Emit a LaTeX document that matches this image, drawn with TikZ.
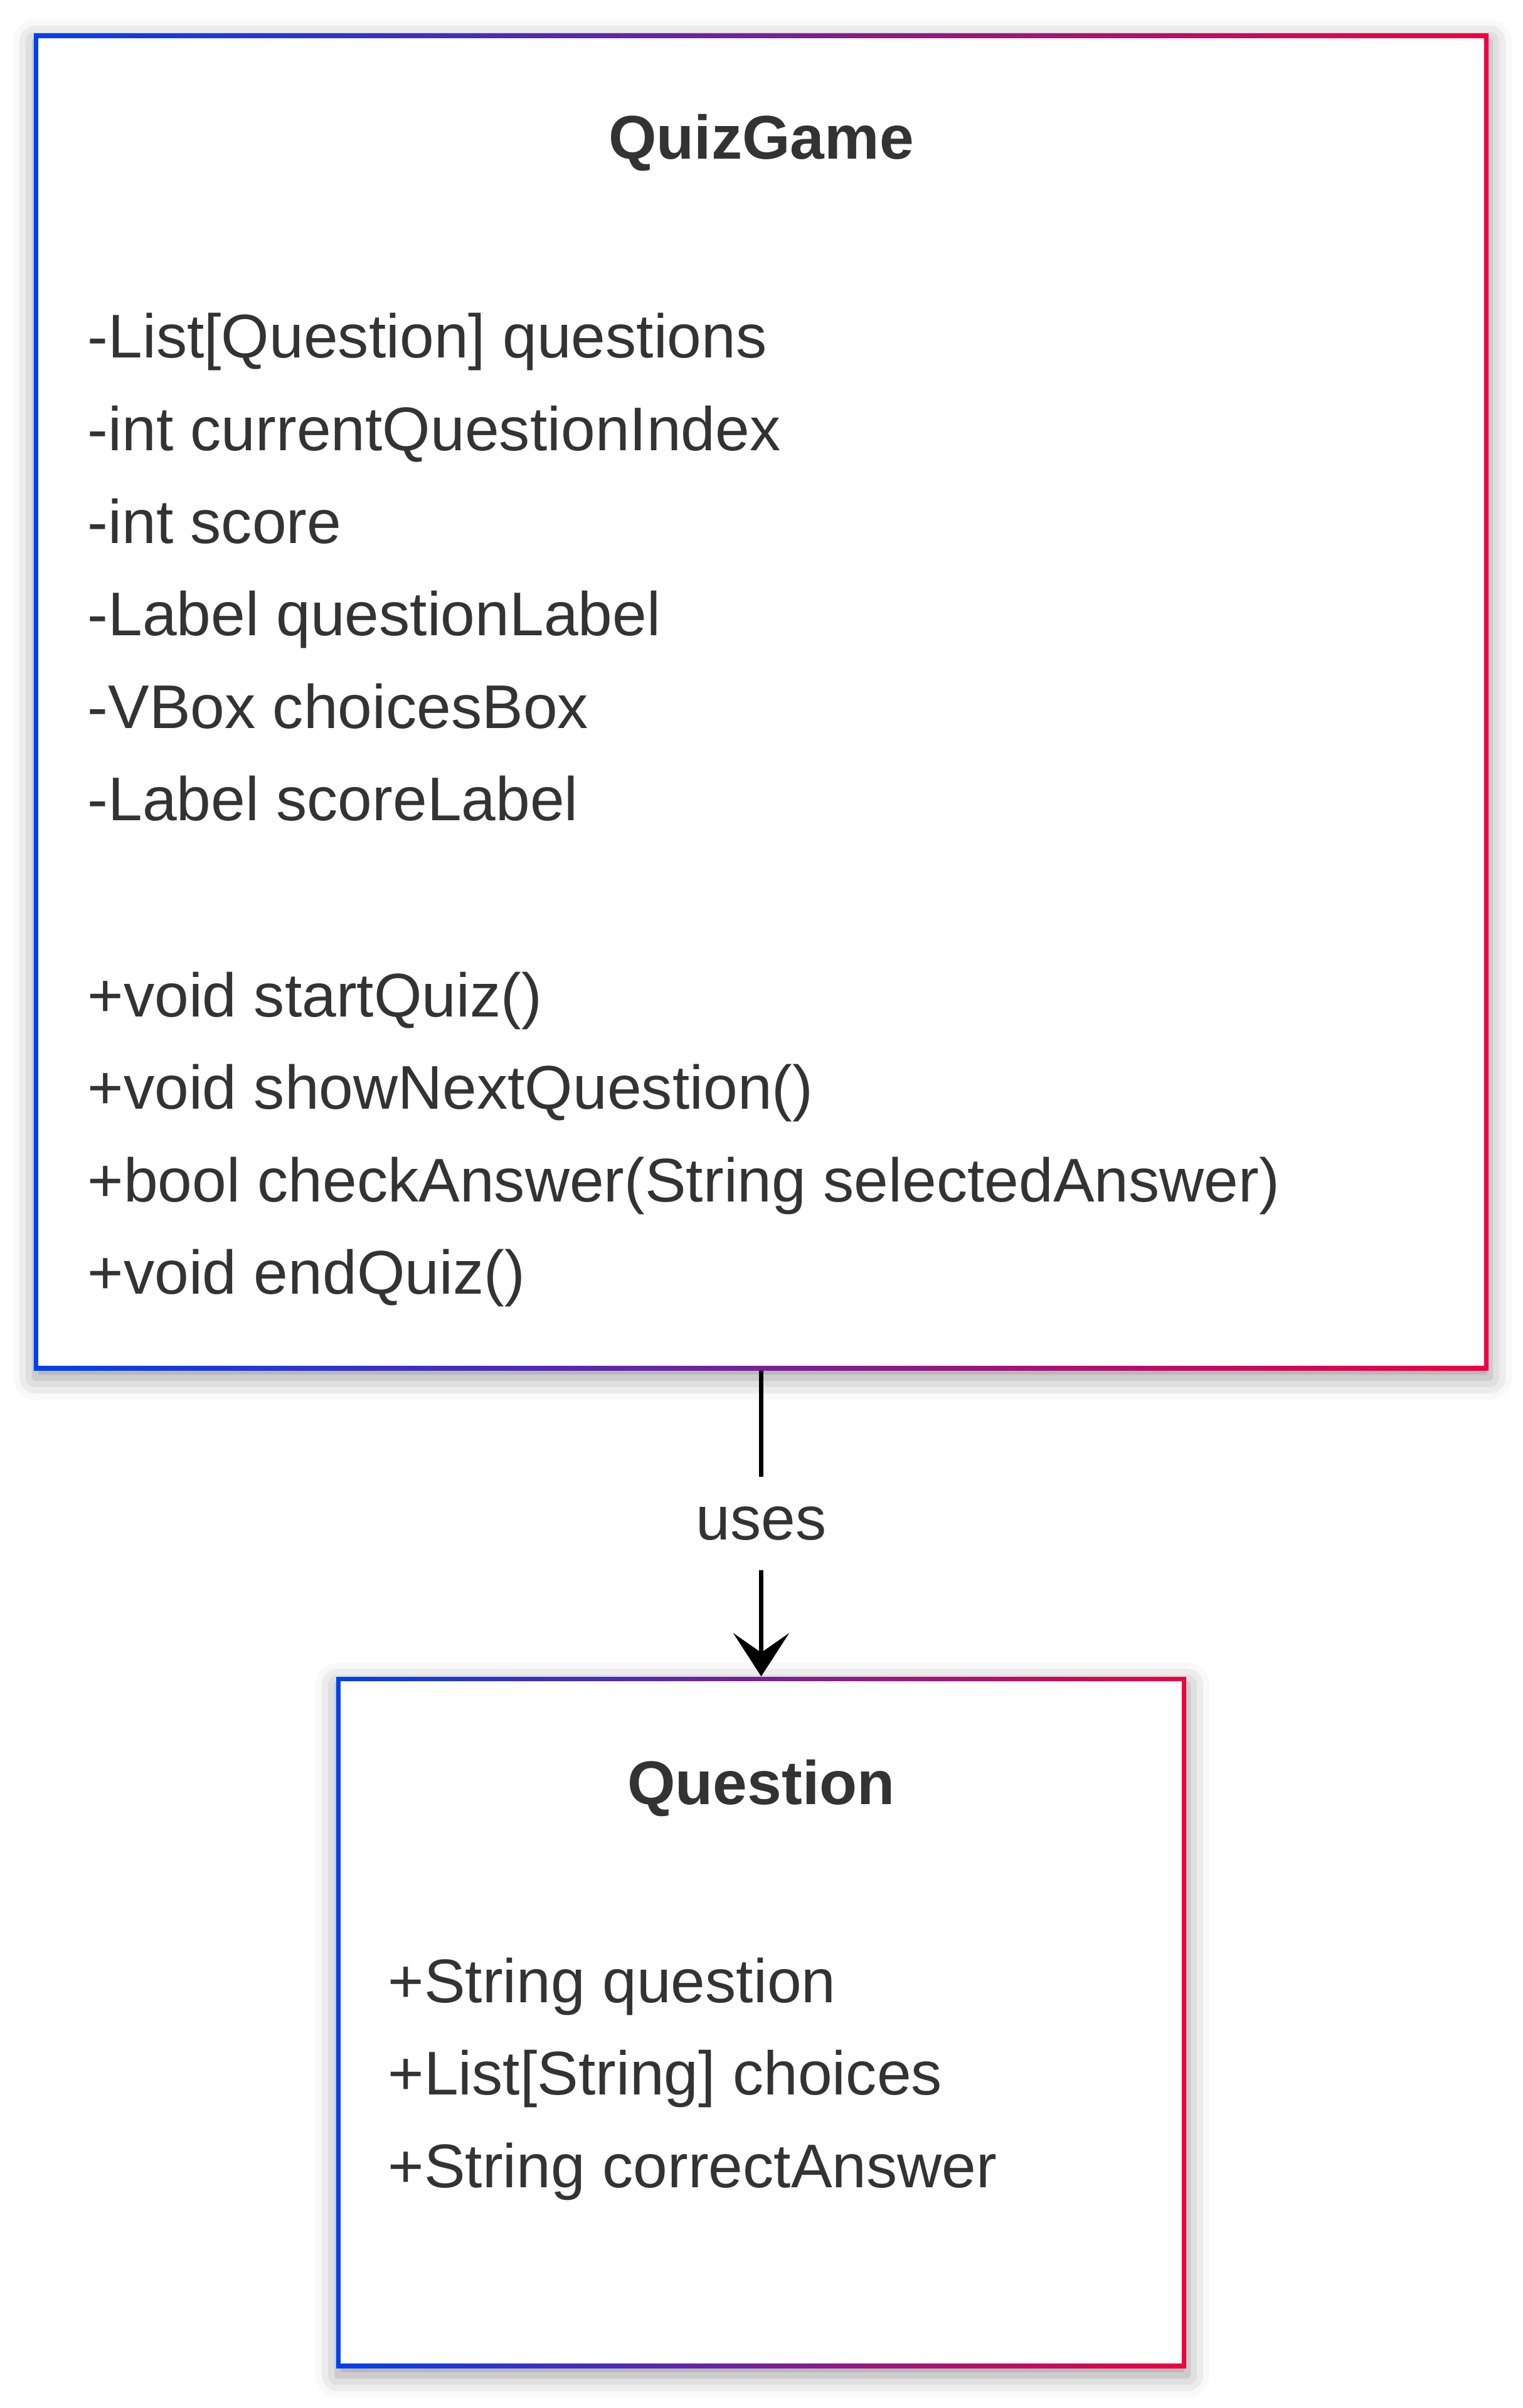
\documentclass[tikz,border=0pt]{standalone}
\usepackage{fontspec}
\setmainfont{Liberation Sans}
\usetikzlibrary{arrows.meta,shadows.blur}

\definecolor{umlblue}{RGB}{0,64,240}
\definecolor{umlred}{RGB}{240,0,64}
\definecolor{umltext}{RGB}{51,51,51}

\tikzset{
	classbox/.style={shape=rectangle,inner sep=0pt,left color=umlblue,right color=umlred,
		blur shadow={shadow xshift=0.02cm,shadow yshift=-0.12cm,shadow blur radius=0.35cm,shadow opacity=40},
		path picture={\fill[white] ([shift={(0.07,-0.07)}]path picture bounding box.north west) rectangle ([shift={(-0.07,0.07)}]path picture bounding box.south east);}},
	classname/.style={anchor=base,inner sep=0pt,text=umltext,font=\bfseries\fontsize{28pt}{34pt}\selectfont},
	member/.style={anchor=base west,inner sep=0pt,text=umltext,font=\fontsize{28pt}{34pt}\selectfont},
}

\begin{document}
\begin{tikzpicture}
	\useasboundingbox (0,0) rectangle (24.27,-38.40);

	\node [classbox,minimum width=23.19cm,minimum height=21.31cm] (QG) at (12.135,-11.195) {};
	\node [classbox,minimum width=13.55cm,minimum height=11.02cm] (Q) at (12.135,-32.25) {};

	\node [classname] (QGname) at (12.135,-2.54) {QuizGame};
	\foreach \txt [count=\i from 0] in {{-List[Question] questions},{-int currentQuestionIndex},{-int score},{-Label questionLabel},{-VBox choicesBox},{-Label scoreLabel}}
		\node [member] (QGattr\i) at (1.39,{-5.71-1.475*\i}) {\txt};
	\foreach \txt [count=\i from 0] in {{+void startQuiz()},{+void showNextQuestion()},{+bool checkAnswer(String selectedAnswer)},{+void endQuiz()}}
		\node [member] (QGop\i) at (1.39,{-16.21-1.475*\i}) {\txt};

	\node [classname] (Qname) at (12.135,-28.77) {Question};
	\foreach \txt [count=\i from 0] in {{+String question},{+List[String] choices},{+String correctAnswer}}
		\node [member] (Qattr\i) at (6.18,{-31.93-1.475*\i}) {\txt};

	\draw [line width=0.065cm,-{Stealth[length=0.69cm,width=0.89cm,inset=0.31cm]}] (QG) -- node [fill=white,inner xsep=0.1cm,inner ysep=0.48cm,text=umltext,font=\fontsize{28pt}{34pt}\selectfont] (uses) {uses} (Q);
\end{tikzpicture}
\end{document}
